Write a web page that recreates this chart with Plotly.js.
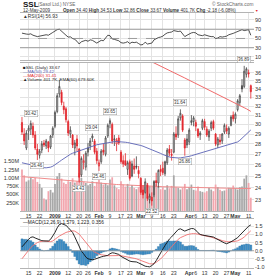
<!DOCTYPE html>
<html><head><meta charset="utf-8">
<script src="https://cdn.plot.ly/plotly-3.0.1.min.js"></script>
<style>html,body{margin:0;padding:0;background:#fff}#chart{width:272px;height:280px}</style>
</head><body><div id="chart"></div>
<script>
const dates = [
"2008-12-10","2008-12-11","2008-12-12","2008-12-15","2008-12-16","2008-12-17","2008-12-18","2008-12-19","2008-12-22","2008-12-23","2008-12-24","2008-12-26","2008-12-29","2008-12-30","2008-12-31",
"2009-01-02","2009-01-05","2009-01-06","2009-01-07","2009-01-08","2009-01-09","2009-01-12","2009-01-13","2009-01-14","2009-01-15","2009-01-16","2009-01-20","2009-01-21","2009-01-22","2009-01-23","2009-01-26","2009-01-27","2009-01-28","2009-01-29","2009-01-30",
"2009-02-02","2009-02-03","2009-02-04","2009-02-05","2009-02-06","2009-02-09","2009-02-10","2009-02-11","2009-02-12","2009-02-13","2009-02-17","2009-02-18","2009-02-19","2009-02-20","2009-02-23","2009-02-24","2009-02-25","2009-02-26","2009-02-27",
"2009-03-02","2009-03-03","2009-03-04","2009-03-05","2009-03-06","2009-03-09","2009-03-10","2009-03-11","2009-03-12","2009-03-13","2009-03-16","2009-03-17","2009-03-18","2009-03-19","2009-03-20","2009-03-23","2009-03-24","2009-03-25","2009-03-26","2009-03-27","2009-03-30","2009-03-31",
"2009-04-01","2009-04-02","2009-04-03","2009-04-06","2009-04-07","2009-04-08","2009-04-09","2009-04-13","2009-04-14","2009-04-15","2009-04-16","2009-04-17","2009-04-20","2009-04-21","2009-04-22","2009-04-23","2009-04-24","2009-04-27","2009-04-28","2009-04-29","2009-04-30",
"2009-05-01","2009-05-04","2009-05-05","2009-05-06","2009-05-07","2009-05-08","2009-05-11","2009-05-12"];

const openP = [30.2,29.0,27.6,29.3,29.5,29.8,28.9,27.5,26.9,27.4,28.1,27.8,28.2,27.7,28.9,
29.8,31.4,33.4,33.6,32.0,31.7,30.3,29.0,28.9,27.6,28.5,27.5,25.1,26.2,25.8,27.2,27.8,28.6,28.3,27.3,
25.9,26.3,27.4,27.0,28.8,30.1,30.0,28.4,28.0,28.6,27.2,26.4,26.4,25.6,26.3,25.0,25.9,25.9,25.5,
24.8,23.8,23.6,24.2,23.0,23.2,23.4,24.6,24.4,25.6,25.7,25.2,26.2,27.5,27.0,27.2,29.0,28.9,30.7,30.9,28.4,27.9,
28.2,30.2,30.3,30.2,29.5,28.9,29.6,30.3,29.5,28.7,29.6,30.3,29.0,27.9,28.4,28.3,29.2,29.6,29.0,29.9,31.0,
30.6,31.6,32.4,34.4,34.3,35.8,36.0,34.40];
const highP = [30.8,29.6,29.4,29.9,30.42,30.2,29.3,28.0,27.5,28.3,28.4,28.5,28.3,28.9,29.8,
31.5,33.5,35.1,33.9,32.5,31.9,30.5,29.8,29.0,28.4,28.9,27.6,26.8,27.0,27.3,28.1,28.6,29.04,28.5,27.6,
26.5,27.5,28.0,28.8,30.1,30.65,30.2,28.9,28.6,28.9,27.4,26.9,27.1,26.4,26.5,26.4,26.6,26.8,25.9,
24.9,24.2,24.8,24.4,23.5,23.6,24.6,25.3,25.6,26.0,26.3,26.4,27.6,27.9,27.5,29.2,29.8,30.9,31.64,31.1,28.6,29.0,
29.6,31.0,30.9,30.5,29.6,29.3,30.6,30.6,29.8,29.5,30.4,30.5,29.1,28.7,29.0,29.1,30.1,30.0,29.8,31.0,31.4,
31.3,32.8,33.4,35.2,36.89,36.7,36.4,34.53];
const lowP = [28.9,27.9,27.4,28.4,28.9,28.6,27.4,26.46,26.6,27.1,27.7,27.5,27.2,27.5,28.6,
29.6,31.2,33.0,32.1,31.1,30.2,28.8,28.6,27.6,26.9,27.3,24.43,24.9,25.6,25.5,26.8,27.4,28.2,27.0,26.1,
25.46,26.1,26.9,26.8,28.6,29.6,28.0,27.8,27.3,27.9,26.1,25.8,25.9,25.1,24.6,24.9,25.2,25.6,24.8,
23.4,23.1,23.5,22.9,22.7,22.52,23.2,24.1,24.0,25.0,25.1,25.0,26.0,26.8,26.4,27.1,28.4,28.6,30.4,29.2,26.86,27.6,
27.9,29.9,29.8,29.3,28.6,28.4,29.4,29.4,28.7,28.3,29.3,29.4,27.8,27.6,27.9,28.0,29.0,29.0,28.6,29.8,30.3,
30.1,31.4,32.1,33.6,34.1,35.4,35.4,32.86];
const closeP = [29.2,28.3,29.1,29.6,30.1,28.9,27.6,27.0,27.3,28.0,27.9,28.3,27.6,28.8,29.6,
31.3,33.2,34.3,32.4,31.6,30.5,29.1,29.4,27.9,28.1,27.8,24.9,26.6,26.4,27.1,27.6,28.3,28.8,27.2,26.4,
26.2,27.3,27.2,28.6,29.9,30.4,28.3,28.5,28.4,28.1,26.3,26.1,26.0,26.2,24.8,26.1,25.6,25.8,25.2,
23.6,23.4,24.5,23.1,23.3,22.9,24.5,24.4,25.5,25.4,25.3,26.3,27.4,27.1,26.9,29.0,28.7,30.6,31.2,29.4,27.6,28.5,
29.4,30.4,30.7,29.8,28.8,29.1,30.4,29.7,28.9,29.3,30.2,29.6,28.0,28.5,28.2,29.0,29.9,29.3,29.6,30.8,30.6,
31.1,32.6,33.2,34.0,36.2,36.5,35.85,33.67];
const volumeK = [1260,1080,890,930,1020,960,1000,880,820,700,380,340,600,640,560,
820,1050,1150,980,860,820,900,880,990,860,900,1150,1000,880,850,780,820,900,760,880,
950,860,800,840,780,950,1020,780,700,660,900,800,740,820,720,790,700,660,720,
860,790,720,840,760,740,920,820,760,660,720,640,780,690,760,1080,720,700,650,700,820,660,
720,800,640,620,740,600,580,560,600,700,650,600,800,720,640,600,620,660,700,690,770,
700,650,720,740,980,1080,850,401.7];
const volEmaK = [1040,1034,1028,1022,1016,1010,1004,998,992,986,980,974,968,962,956,
950,944,938,932,926,920,914,908,902,896,890,884,878,872,866,860,854,848,842,836,
830,827,823,820,816,813,809,806,802,799,795,792,788,785,781,778,775,772,769,
766,763,760,757,754,751,748,745,742,739,736,733,731,729,727,725,723,721,719,717,715,713,
711,709,707,705,703,701,699,697,695,694,693,692,691,690,689,688,687,686,685,684,683,
683,682,682,681,681,680,680,679.6];
const ma50 = [26.20,26.15,26.10,26.05,26.00,25.95,25.90,25.86,25.82,25.78,25.75,25.74,25.76,25.80,25.88,
26.00,26.15,26.30,26.45,26.60,26.75,26.88,27.00,27.10,27.18,27.25,27.30,27.38,27.46,27.55,27.65,27.75,27.82,27.88,27.92,
27.96,28.00,28.05,28.10,28.15,28.20,28.22,28.23,28.24,28.24,28.22,28.20,28.17,28.14,28.10,28.06,28.02,27.97,27.92,
27.85,27.78,27.70,27.62,27.54,27.45,27.36,27.27,27.18,27.08,26.98,26.88,26.80,26.74,26.70,26.67,26.65,26.65,26.66,26.68,26.70,26.74,
26.80,26.86,26.92,26.98,27.04,27.10,27.16,27.22,27.28,27.34,27.40,27.46,27.52,27.58,27.64,27.70,27.76,27.82,27.88,27.94,28.00,
28.08,28.20,28.36,28.55,28.75,28.98,29.20,29.42];
const ma200 = [45.60,45.48,45.36,45.24,45.12,45.00,44.86,44.72,44.58,44.44,44.30,44.16,44.02,43.88,43.74,
43.60,43.46,43.32,43.18,43.04,42.90,42.76,42.62,42.48,42.34,42.20,42.06,41.92,41.78,41.64,41.50,41.36,41.22,41.08,40.94,
40.80,40.66,40.52,40.38,40.24,40.10,39.96,39.82,39.68,39.54,39.40,39.26,39.12,38.98,38.84,38.70,38.56,38.42,38.28,
38.14,38.00,37.86,37.72,37.58,37.44,37.30,37.16,37.02,36.88,36.74,36.60,36.46,36.32,36.18,36.04,35.90,35.76,35.62,35.48,35.34,35.20,
35.06,34.92,34.78,34.64,34.50,34.37,34.24,34.11,33.98,33.85,33.72,33.59,33.46,33.33,33.20,33.07,32.94,32.81,32.68,32.55,32.42,
32.30,32.18,32.06,31.94,31.82,31.70,31.56,31.41];
const rsi = [61.5,60,59.5,59,60,57,55,54,55,56,56.5,58,57,61,63,
66,69,70,65,61,57,53,53.5,50,48,44,38,43,44,46,44,47,46,42,40,
43,46,45,51,57,56,49,48,47,45,41,40,41,43,39,42,41,42,39,
36,37,42,38,39,40,47,50,52,53,55,59,62,63,64,67,66,65,66,60,54,57,
60,62,63,62,58,57,56,58,56,55,54,54,50,51,54,53,54,55,58,59,61,
63,65,67,69,67,68,69,56.93];
const macd = [0.24,0.40,0.58,0.70,0.82,0.85,0.78,0.72,0.66,0.62,0.60,0.60,0.60,0.70,0.88,
1.12,1.40,1.60,1.66,1.62,1.55,1.42,1.28,1.12,0.85,0.55,0.22,-0.02,-0.18,-0.38,-0.49,-0.52,-0.55,-0.52,-0.46,
-0.40,-0.37,-0.34,-0.32,-0.28,-0.18,-0.12,-0.14,-0.17,-0.22,-0.34,-0.42,-0.50,-0.59,-0.63,-0.66,-0.67,-0.68,-0.74,
-0.82,-0.90,-0.94,-0.96,-0.98,-0.90,-0.79,-0.60,-0.35,-0.08,0.10,0.32,0.55,0.72,0.85,1.02,1.16,1.30,1.34,1.26,1.20,1.26,
1.33,1.36,1.35,1.26,1.10,1.00,0.96,0.93,0.90,0.88,0.86,0.84,0.76,0.68,0.62,0.54,0.48,0.43,0.47,0.55,0.63,
0.70,0.80,0.95,1.10,1.22,1.38,1.50,1.579];
const signal = [-0.49,-0.30,-0.12,0.05,0.20,0.32,0.42,0.50,0.55,0.58,0.60,0.58,0.56,0.56,0.60,
0.68,0.80,0.90,0.98,1.05,1.12,1.16,1.20,1.22,1.20,1.12,1.02,0.85,0.68,0.52,0.32,0.15,0.02,-0.08,-0.16,
-0.20,-0.24,-0.27,-0.29,-0.30,-0.30,-0.29,-0.28,-0.28,-0.29,-0.30,-0.32,-0.35,-0.37,-0.40,-0.43,-0.46,-0.49,-0.54,
-0.60,-0.66,-0.72,-0.76,-0.79,-0.80,-0.78,-0.70,-0.61,-0.50,-0.36,-0.20,-0.04,0.12,0.26,0.42,0.56,0.70,0.80,0.88,0.92,0.98,
1.02,1.04,1.05,1.05,1.02,0.98,0.94,0.91,0.88,0.86,0.83,0.80,0.76,0.72,0.67,0.62,0.58,0.56,0.55,0.55,0.56,
0.58,0.61,0.66,0.74,0.84,0.96,1.10,1.223];

const tickDates = ["2008-12-15","2008-12-22","2009-01-02","2009-01-12","2009-01-20","2009-01-26","2009-02-02","2009-02-09","2009-02-17","2009-02-23","2009-03-02","2009-03-09","2009-03-16","2009-03-23","2009-04-01","2009-04-06","2009-04-13","2009-04-20","2009-04-27","2009-05-01","2009-05-11"];
const tickLabels = ["15","22","<b>2009</b>","12","20","26","<b>Feb</b>","9","17","23","<b>Mar</b>","9","16","23","<b>Apr</b>","6","13","20","27","<b>May</b>","11"];
const priceTicks = [23,24,25,26,27,28,29,30,31,32,33,34,35,36];
const volTicks = [250,500,750,1000,1250,1500];
const volTickLabels = ["250K","500K","750K","1.00M","1.25M","1.50M"];
const rsiTicks = [10,30,50,70,90];
const macdTicks = [-1,-0.5,0,0.5,1,1.5];
const macdTickLabels = ["-1.0","-0.5","0.0","0.5","1.0","1.5"];
const labelDates = ["2008-12-16","2008-12-19","2009-01-20","2009-01-28","2009-02-02","2009-02-09","2009-03-09","2009-03-26","2009-03-30","2009-05-07"];
const labelValues = [30.42,26.46,24.43,29.04,25.46,30.65,22.52,31.64,26.86,36.89];
const labelAbove = [true,false,false,true,false,true,false,true,false,true];

const W = 272, H = 280;
const px = x => x / W, py = y => 1 - y / H;
const FONT = "Liberation Sans, Arial, sans-serif";
const GRID = "#e3e3e3", BORDER = "#b4b4b4";
const RED = "#e2262c", DARK = "#444";
const xDom = [px(20), px(254)];
const xRange = [-0.9, 105.45];

const upPrev = closeP.map((c, i) => i === 0 ? false : c >= closeP[i - 1]);
const volColors = upPrev.map(u => u ? "#a8a8a8" : "#f2a6ae");
function sub(arr, keep) { return arr.filter((_, i) => keep[i]); }
const keepB = upPrev, keepR = upPrev.map(u => !u);

const traces = [];
traces.push({type:"bar", x:dates, y:volumeK, xaxis:"x", yaxis:"y", marker:{color:volColors, line:{width:0}}, hoverinfo:"skip"});
traces.push({type:"scatter", mode:"lines", x:dates, y:volEmaK, xaxis:"x", yaxis:"y", line:{color:"#f08c8c", width:1}});
function candle(keep, col) {
  return {type:"candlestick", x:sub(dates,keep), open:sub(openP,keep), high:sub(highP,keep), low:sub(lowP,keep), close:sub(closeP,keep),
    xaxis:"x", yaxis:"y2", whiskerwidth:0,
    increasing:{line:{color:col, width:0.8}, fillcolor:"#ffffff"},
    decreasing:{line:{color:col, width:0.8}, fillcolor:col}};
}
traces.push(candle(keepB, DARK));
traces.push(candle(keepR, RED));
traces.push({type:"scatter", mode:"lines", x:dates, y:ma50, xaxis:"x", yaxis:"y2", line:{color:"#5a62b4", width:0.9}});
traces.push({type:"scatter", mode:"lines", x:dates, y:ma200, xaxis:"x", yaxis:"y2", line:{color:"#f06a6a", width:1}});
traces.push({type:"scatter", mode:"lines", x:dates, y:rsi, xaxis:"x2", yaxis:"y3", line:{color:"#222", width:0.8}});
const hist = macd.map((m, i) => m - signal[i]);
traces.push({type:"bar", x:dates, y:hist, xaxis:"x3", yaxis:"y4", marker:{color:"#3d8dc6", line:{color:"#2a6e9e", width:0.3}}, width:0.95});
traces.push({type:"scatter", mode:"lines", x:dates, y:signal, xaxis:"x3", yaxis:"y4", line:{color:"#f07070", width:0.9}});
traces.push({type:"scatter", mode:"lines", x:dates, y:macd, xaxis:"x3", yaxis:"y4", line:{color:"#111", width:0.9}});

function xAxis(anchor, showLabels) {
  return {anchor:anchor, domain:xDom, type:"category", categoryorder:"array", categoryarray:dates, range:xRange,
    tickmode:"array", tickvals:tickDates, ticktext:tickLabels, showticklabels:showLabels, ticks:"", ticklen:0, tickangle:0,
    tickfont:{family:FONT, size:5.2, color:"#333"}, showgrid:true, gridcolor:GRID, gridwidth:1,
    showline:true, mirror:true, linecolor:BORDER, linewidth:1, zeroline:false, rangeslider:{visible:false}, fixedrange:true, automargin:false};
}
const yBase = {showline:false, zeroline:false, ticks:"", ticklen:0, tickfont:{family:FONT, size:5.5, color:"#333"}, fixedrange:true, automargin:false};

const layout = {
  width:W, height:H, margin:{l:0, r:0, t:0, b:0}, paper_bgcolor:"#fff", plot_bgcolor:"#fff",
  showlegend:false, bargap:0.2, font:{family:FONT},
  xaxis: xAxis("y", true),
  xaxis2: xAxis("y3", false),
  xaxis3: xAxis("y4", true),
  yaxis: Object.assign({}, yBase, {anchor:"x", domain:[py(211), py(63)], range:[0, 4480], side:"left",
    tickmode:"array", tickvals:volTicks, ticktext:volTickLabels, showgrid:false}),
  yaxis2: Object.assign({}, yBase, {anchor:"x", overlaying:"y", side:"right", type:"log",
    range:[Math.log10(22.1), Math.log10(37.26)], tickmode:"array", tickvals:priceTicks, ticktext:priceTicks.map(String),
    showgrid:true, gridcolor:GRID}),
  yaxis3: Object.assign({}, yBase, {anchor:"x2", domain:[py(60), py(13)], range:[3.5, 105], side:"right",
    tickmode:"array", tickvals:rsiTicks, showgrid:true, gridcolor:GRID}),
  yaxis4: Object.assign({}, yBase, {anchor:"x3", domain:[py(268), py(219)], range:[-1.05, 1.94], side:"right",
    tickmode:"array", tickvals:macdTicks, ticktext:macdTickLabels, showgrid:true, gridcolor:GRID}),
  shapes: [
    {type:"line", xref:"x2 domain", x0:0, x1:1, yref:"y3", y0:70, y1:70, line:{color:"#8a8a8a", width:0.8}},
    {type:"line", xref:"x2 domain", x0:0, x1:1, yref:"y3", y0:30, y1:30, line:{color:"#8a8a8a", width:0.8}},
    {type:"line", xref:"x2 domain", x0:0, x1:1, yref:"y3", y0:50, y1:50, line:{color:"#8a8a8a", width:0.8, dash:"dash"}},
    {type:"line", xref:"x3 domain", x0:0, x1:1, yref:"y4", y0:0, y1:0, line:{color:"#9a9a9a", width:0.8}}
  ],
  annotations: []
};

const A = layout.annotations;
function txt(x, y, text, size, color, anchor) {
  A.push({xref:"paper", yref:"paper", x:px(x), y:py(y), text:text, showarrow:false, xanchor:anchor||"left", yanchor:"middle",
    font:{family:FONT, size:size, color:color||"#222"}});
}
txt(21, 4.2, "<b>SSL</b>", 8, "#111");
txt(36, 4.8, "(Sasol Ltd.) NYSE", 4.6, "#666");
txt(255, 4, "© StockCharts.com", 4.8, "#666", "right");
txt(21, 10.8, "12-May-2009", 4.6, "#333");
txt(61, 10.8, "<b>Open</b> 34.40 <b>High</b> 34.53 <b>Low</b> 32.86 <b>Close</b> 33.67 <b>Volume</b> 401.7K <b>Chg</b> -2.18 (-6.08%)", 4.6, "#333");
txt(253, 10.8, "▼", 3.5, RED);
txt(21, 16, "▲RSI(14) 56.93", 4.8, "#333");
txt(21, 67.5, "■SSL (Daily) 33.67", 4.4, "#222");
txt(21, 71.6, "—MA(50) 29.42", 4.4, "#5a62b4");
txt(21, 75.7, "—MA(200) 31.41", 4.4, RED);
txt(21, 79.8, "▲Volume 401.7K, EMA(60) 679.60K", 4.4, "#222");
txt(21, 222.5, "—MACD(12,26,9) 1.579, 1.223, 0.356", 4.8, "#222");

labelDates.forEach((d, k) => {
  A.push({xref:"x", yref:"y2", x:d, y:Math.log10(labelValues[k]), text:labelValues[k].toFixed(2), showarrow:false,
    yanchor: labelAbove[k] ? "bottom" : "top", yshift: labelAbove[k] ? 3 : -2,
    font:{family:FONT, size:4.5, color:"#333"}, bgcolor:"#fff", bordercolor:"#999", borderwidth:0.5, borderpad:0.5});
});

Plotly.newPlot("chart", traces, layout, {staticPlot:true, displayModeBar:false});
</script></body></html>
